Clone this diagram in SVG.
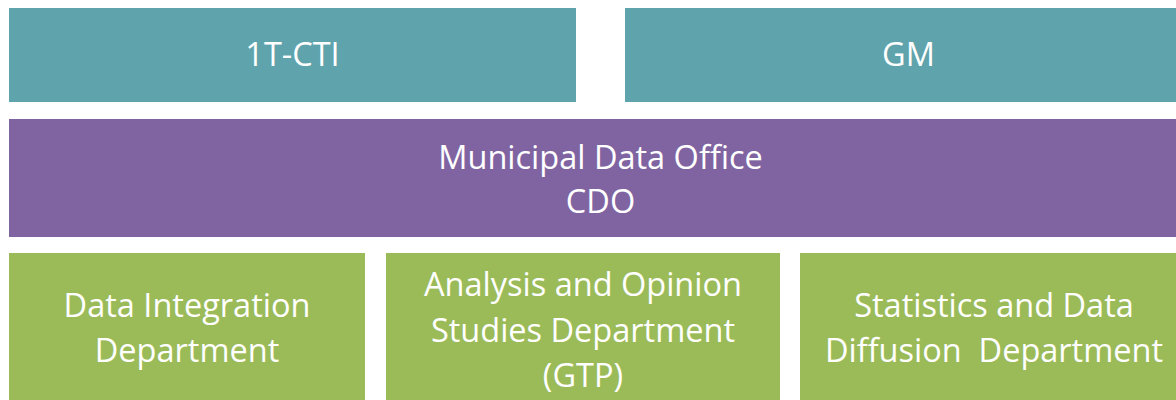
<svg xmlns="http://www.w3.org/2000/svg" width="1176" height="400" viewBox="0 0 1176 400">
<style>
.teal{fill:#5FA3AC}
.purple{fill:#8064A2}
.green{fill:#9BBB59}
text{font-family:"Open Sans","Noto Sans","Liberation Sans",sans-serif;font-size:32.5px;fill:#FFFFFF;text-anchor:middle;white-space:pre}
</style>
<rect width="1176" height="400" fill="#FFFFFF"/>
<g id="node-1t-cti">
<rect class="teal" x="9" y="8" width="567" height="94"/>
<text x="292.5" y="66">1T-CTI</text>
</g>
<g id="node-gm">
<rect class="teal" x="625" y="8" width="567" height="94"/>
<text x="908.5" y="66">GM</text>
</g>
<g id="node-cdo">
<rect class="purple" x="9" y="119" width="1183" height="118"/>
<text x="600.5" y="168.5">Municipal Data Office</text>
<text x="600.5" y="212.5">CDO</text>
</g>
<g id="node-data-integration">
<rect class="green" x="9" y="253" width="356" height="160"/>
<text x="187" y="317">Data Integration</text>
<text x="187" y="362">Department</text>
</g>
<g id="node-analysis">
<rect class="green" x="386" y="253" width="394" height="160"/>
<text x="583" y="296">Analysis and Opinion</text>
<text x="583" y="341.5">Studies Department</text>
<text x="583" y="386.5">(GTP)</text>
</g>
<g id="node-statistics">
<rect class="green" x="800" y="253" width="388" height="160"/>
<text x="994" y="317">Statistics and Data</text>
<text x="994" y="362" xml:space="preserve">Diffusion  Department</text>
</g>
<g id="connectors"></g>
</svg>
